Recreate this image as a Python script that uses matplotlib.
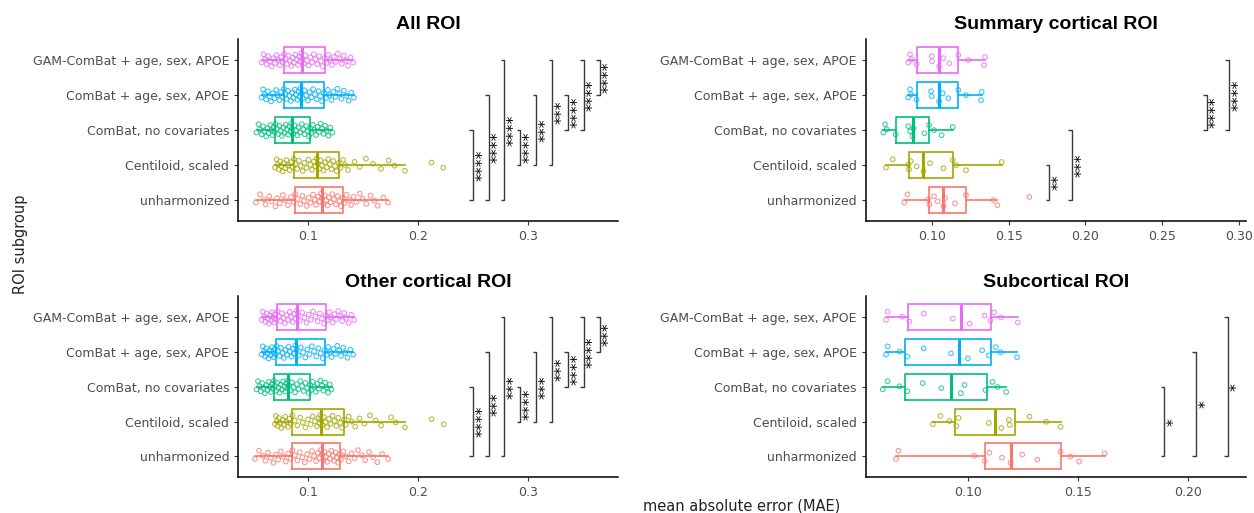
import numpy as np
import matplotlib
matplotlib.use("Agg")
import matplotlib.pyplot as plt

# ---------------- data ----------------
groups = ["unharmonized", "Centiloid, scaled", "ComBat, no covariates",
          "ComBat + age, sex, APOE", "GAM-ComBat + age, sex, APOE"]
colors = ["#F8766D", "#A3A500", "#00BF7D", "#00B0F6", "#E76BF3"]

# All ROI
all_unharm = [0.0524, 0.0561, 0.0598, 0.0612, 0.0645, 0.0667, 0.0702, 0.0718, 0.0741, 0.0769, 0.0788, 0.0815, 0.0842, 0.0866,
              0.0881, 0.0903, 0.0927, 0.0948, 0.0962, 0.0985, 0.1004, 0.1021, 0.1043, 0.1058, 0.1072, 0.1089, 0.1104, 0.1117,
              0.1125, 0.1138, 0.1149, 0.1163, 0.1176, 0.1188, 0.1202, 0.1219, 0.1234, 0.1251, 0.1268, 0.1283, 0.1297, 0.1312,
              0.1326, 0.1348, 0.1371, 0.1389, 0.1412, 0.1437, 0.1468, 0.1493, 0.1528, 0.1566, 0.1601, 0.1632, 0.1684, 0.1727]
all_centiloid = [0.0697, 0.0712, 0.0724, 0.0733, 0.0745, 0.0756, 0.0768, 0.0779, 0.0791, 0.0803, 0.0818, 0.0832, 0.0845, 0.0859,
                 0.0870, 0.0884, 0.0898, 0.0915, 0.0931, 0.0949, 0.0966, 0.0984, 0.1002, 0.1019, 0.1035, 0.1051, 0.1066, 0.1078,
                 0.1087, 0.1099, 0.1112, 0.1126, 0.1139, 0.1152, 0.1168, 0.1183, 0.1197, 0.1212, 0.1228, 0.1243, 0.1259, 0.1276,
                 0.1291, 0.1318, 0.1335, 0.1362, 0.1421, 0.1468, 0.1525, 0.1589, 0.1662, 0.1731, 0.1784, 0.1879, 0.2121, 0.2227]
all_combat_nocov = [0.0530, 0.0548, 0.0561, 0.0577, 0.0589, 0.0603, 0.0618, 0.0629, 0.0641, 0.0655, 0.0664, 0.0673, 0.0684, 0.0693,
                    0.0702, 0.0714, 0.0726, 0.0738, 0.0749, 0.0761, 0.0772, 0.0784, 0.0795, 0.0807, 0.0818, 0.0829, 0.0838, 0.0845,
                    0.0852, 0.0864, 0.0876, 0.0889, 0.0901, 0.0914, 0.0928, 0.0941, 0.0955, 0.0968, 0.0982, 0.0995, 0.1007, 0.1016,
                    0.1027, 0.1042, 0.1056, 0.1071, 0.1085, 0.1098, 0.1112, 0.1126, 0.1139, 0.1153, 0.1168, 0.1184, 0.1201, 0.1220]
all_combat_cov = [0.0576, 0.0589, 0.0602, 0.0617, 0.0633, 0.0648, 0.0661, 0.0679, 0.0694, 0.0709, 0.0722, 0.0738, 0.0752, 0.0766,
                  0.0779, 0.0791, 0.0803, 0.0816, 0.0829, 0.0842, 0.0853, 0.0867, 0.0878, 0.0889, 0.0901, 0.0912, 0.0921, 0.0929,
                  0.0938, 0.0951, 0.0967, 0.0982, 0.0998, 0.1013, 0.1029, 0.1044, 0.1061, 0.1077, 0.1094, 0.1109, 0.1126, 0.1143,
                  0.1161, 0.1178, 0.1193, 0.1212, 0.1229, 0.1248, 0.1266, 0.1281, 0.1302, 0.1324, 0.1346, 0.1368, 0.1391, 0.1415]
all_gam = [0.0576, 0.0594, 0.0608, 0.0621, 0.0637, 0.0652, 0.0668, 0.0683, 0.0697, 0.0712, 0.0728, 0.0741, 0.0755, 0.0768,
           0.0781, 0.0794, 0.0807, 0.0821, 0.0834, 0.0847, 0.0858, 0.0871, 0.0883, 0.0896, 0.0907, 0.0918, 0.0927, 0.0935,
           0.0944, 0.0958, 0.0973, 0.0989, 0.1004, 0.1019, 0.1035, 0.1051, 0.1067, 0.1083, 0.1099, 0.1116, 0.1132, 0.1149,
           0.1166, 0.1181, 0.1198, 0.1215, 0.1233, 0.1251, 0.1268, 0.1286, 0.1305, 0.1323, 0.1342, 0.1361, 0.1385, 0.1409]

# Summary cortical ROI
sum_unharm = [0.0822, 0.0842, 0.0978, 0.0985, 0.1015, 0.1039, 0.1076, 0.1087, 0.1152, 0.1223, 0.1401, 0.1427, 0.1635]
sum_centiloid = [0.0703, 0.0746, 0.0849, 0.0853, 0.0864, 0.0902, 0.0946, 0.0989, 0.1076, 0.1137, 0.1158, 0.1223, 0.1455]
sum_combat_nocov = [0.0686, 0.0697, 0.0708, 0.0766, 0.0848, 0.0860, 0.0876, 0.0882, 0.0952, 0.0983, 0.1015, 0.1065, 0.1137]
sum_combat_cov = [0.0848, 0.0859, 0.0866, 0.0902, 0.0996, 0.1000, 0.1048, 0.1072, 0.1108, 0.1173, 0.1223, 0.1321, 0.1325]
sum_gam = [0.0848, 0.0859, 0.0870, 0.0902, 0.1000, 0.1002, 0.1048, 0.1076, 0.1115, 0.1173, 0.1238, 0.1340, 0.1347]

# Other cortical ROI
oth_unharm = [0.0515, 0.0552, 0.0587, 0.0611, 0.0634, 0.0659, 0.0683, 0.0705, 0.0727, 0.0751, 0.0773, 0.0796, 0.0818, 0.0839,
              0.0856, 0.0878, 0.0901, 0.0923, 0.0947, 0.0968, 0.0991, 0.1012, 0.1034, 0.1053, 0.1071, 0.1088, 0.1103, 0.1116,
              0.1126, 0.1138, 0.1149, 0.1161, 0.1173, 0.1186, 0.1198, 0.1211, 0.1224, 0.1236, 0.1249, 0.1261, 0.1272, 0.1283,
              0.1297, 0.1318, 0.1342, 0.1368, 0.1394, 0.1421, 0.1452, 0.1486, 0.1518, 0.1553, 0.1589, 0.1628, 0.1671, 0.1727]
oth_centiloid = [0.0697, 0.0706, 0.0714, 0.0723, 0.0733, 0.0744, 0.0756, 0.0768, 0.0779, 0.0791, 0.0803, 0.0816, 0.0829, 0.0841,
                 0.0856, 0.0878, 0.0902, 0.0927, 0.0951, 0.0974, 0.0998, 0.1021, 0.1042, 0.1061, 0.1079, 0.1093, 0.1102, 0.1109,
                 0.1116, 0.1128, 0.1142, 0.1157, 0.1172, 0.1188, 0.1204, 0.1221, 0.1239, 0.1256, 0.1273, 0.1291, 0.1308, 0.1326,
                 0.1341, 0.1368, 0.1395, 0.1427, 0.1466, 0.1512, 0.1561, 0.1612, 0.1663, 0.1752, 0.1795, 0.1879, 0.2121, 0.2232]
oth_combat_nocov = [0.0530, 0.0543, 0.0556, 0.0569, 0.0581, 0.0594, 0.0606, 0.0618, 0.0629, 0.0641, 0.0652, 0.0662, 0.0671, 0.0679,
                    0.0688, 0.0697, 0.0708, 0.0718, 0.0729, 0.0739, 0.0750, 0.0761, 0.0771, 0.0782, 0.0792, 0.0801, 0.0809, 0.0815,
                    0.0822, 0.0836, 0.0851, 0.0866, 0.0881, 0.0897, 0.0912, 0.0928, 0.0944, 0.0959, 0.0975, 0.0991, 0.1005, 0.1016,
                    0.1026, 0.1041, 0.1055, 0.1069, 0.1083, 0.1097, 0.1111, 0.1125, 0.1139, 0.1153, 0.1167, 0.1181, 0.1196, 0.1212]
oth_combat_cov = [0.0576, 0.0587, 0.0598, 0.0608, 0.0619, 0.0629, 0.0640, 0.0650, 0.0660, 0.0669, 0.0678, 0.0687, 0.0695, 0.0702,
                  0.0712, 0.0725, 0.0739, 0.0752, 0.0766, 0.0779, 0.0793, 0.0807, 0.0821, 0.0834, 0.0848, 0.0861, 0.0873, 0.0883,
                  0.0894, 0.0913, 0.0933, 0.0953, 0.0973, 0.0993, 0.1013, 0.1033, 0.1053, 0.1073, 0.1093, 0.1113, 0.1132, 0.1150,
                  0.1166, 0.1181, 0.1197, 0.1213, 0.1230, 0.1247, 0.1264, 0.1281, 0.1299, 0.1318, 0.1337, 0.1357, 0.1383, 0.1409]
oth_gam = [0.0576, 0.0588, 0.0599, 0.0610, 0.0621, 0.0632, 0.0643, 0.0653, 0.0663, 0.0672, 0.0681, 0.0690, 0.0698, 0.0706,
           0.0719, 0.0733, 0.0747, 0.0761, 0.0775, 0.0789, 0.0803, 0.0817, 0.0831, 0.0845, 0.0859, 0.0872, 0.0884, 0.0895,
           0.0906, 0.0925, 0.0945, 0.0965, 0.0985, 0.1005, 0.1025, 0.1045, 0.1065, 0.1085, 0.1105, 0.1125, 0.1143, 0.1160,
           0.1175, 0.1190, 0.1206, 0.1222, 0.1239, 0.1256, 0.1273, 0.1291, 0.1309, 0.1328, 0.1347, 0.1368, 0.1392, 0.1418]

# Subcortical ROI
sub_unharm = [0.0674, 0.0685, 0.1030, 0.1076, 0.1098, 0.1155, 0.1194, 0.1247, 0.1315, 0.1421, 0.1465, 0.1505, 0.1621]
sub_centiloid = [0.0841, 0.0876, 0.0917, 0.0948, 0.0958, 0.1095, 0.1152, 0.1186, 0.1190, 0.1280, 0.1356, 0.1421]
sub_combat_nocov = [0.0614, 0.0636, 0.0690, 0.0726, 0.0795, 0.0880, 0.0968, 0.0985, 0.1080, 0.1112, 0.1135, 0.1174]
sub_combat_cov = [0.0629, 0.0636, 0.0690, 0.0726, 0.0800, 0.0924, 0.1000, 0.1065, 0.1095, 0.1127, 0.1148, 0.1223]
sub_gam = [0.0629, 0.0636, 0.0702, 0.0735, 0.0800, 0.0932, 0.1008, 0.1076, 0.1102, 0.1119, 0.1150, 0.1227]

# pairwise comparisons (group index pairs) and their significance labels
comparisons = [(0, 1), (0, 2), (0, 3), (0, 4), (1, 2), (1, 3), (1, 4), (2, 3), (2, 4), (3, 4)]
all_sig = ["", "****", "****", "****", "****", "***", "***", "****", "****", "****"]
sum_sig = ["**", "***", "", "", "", "", "", "****", "****", ""]
oth_sig = ["", "****", "***", "***", "****", "***", "***", "****", "****", "***"]
sub_sig = ["", "*", "*", "*", "", "", "", "", "", ""]

panels = [
    dict(title="All ROI", data=[all_unharm, all_centiloid, all_combat_nocov, all_combat_cov, all_gam], sig=all_sig,
         rect=[0.1900, 0.5692, 0.3030, 0.3548], xlim=(0.0364, 0.3818), ticks=[0.1, 0.2, 0.3], fmt="{:.1f}",
         base=0.2352, step=0.0144),
    dict(title="Summary cortical ROI", data=[sum_unharm, sum_centiloid, sum_combat_nocov, sum_combat_cov, sum_gam], sig=sum_sig,
         rect=[0.6906, 0.5692, 0.3028, 0.3548], xlim=(0.0573, 0.3042), ticks=[0.10, 0.15, 0.20, 0.25, 0.30], fmt="{:.2f}",
         base=0.1765, step=0.0146),
    dict(title="Other cortical ROI", data=[oth_unharm, oth_centiloid, oth_combat_nocov, oth_combat_cov, oth_gam], sig=oth_sig,
         rect=[0.1900, 0.0696, 0.3030, 0.3526], xlim=(0.0364, 0.3818), ticks=[0.1, 0.2, 0.3], fmt="{:.1f}",
         base=0.2352, step=0.0144),
    dict(title="Subcortical ROI", data=[sub_unharm, sub_centiloid, sub_combat_nocov, sub_combat_cov, sub_gam], sig=sub_sig,
         rect=[0.6906, 0.0696, 0.3028, 0.3526], xlim=(0.0538, 0.2261), ticks=[0.10, 0.15, 0.20], fmt="{:.2f}",
         base=0.1747, step=0.0144),
]

plt.rcParams['font.family'] = ['DejaVu Sans']
fig = plt.figure(figsize=(12.54, 5.13), dpi=100)
fig.patch.set_facecolor("white")


def jitter(n):
    # deterministic vertical spread of points (layout only)
    k = np.arange(n)
    return ((k * 0.6180339887 + 0.31) % 1.0 - 0.5) * 0.38


for p in panels:
    ax = fig.add_axes(p["rect"])
    positions = np.arange(1, len(groups) + 1)
    for i, (vals, col) in enumerate(zip(p["data"], colors)):
        pos = positions[i]
        ax.boxplot([vals], positions=[pos], vert=False, widths=0.75, showfliers=False,
                   showcaps=False, whis=1.5, patch_artist=False,
                   boxprops=dict(color=col, linewidth=1.2),
                   whiskerprops=dict(color=col, linewidth=1.2),
                   medianprops=dict(color=col, linewidth=2.2))
        v = np.asarray(vals)
        ax.scatter(v, pos + jitter(len(v)), s=11, facecolors="none", edgecolors=col,
                   linewidths=0.8, alpha=0.75, zorder=3)

    x0, x1 = p["xlim"]
    rng = x1 - x0
    tl = 0.0092 * rng
    for k, ((a, b), lab) in enumerate(zip(comparisons, p["sig"])):
        if not lab:
            continue
        xb = p["base"] + k * p["step"]
        ya, yb = positions[a], positions[b]
        ax.plot([xb - tl, xb, xb, xb - tl], [ya, ya, yb, yb], color="#3a3a3a", lw=1.0,
                solid_capstyle="butt", zorder=2)
        ax.text(xb + 0.026 * rng, (ya + yb) / 2, lab, rotation=90, ha="center", va="center",
                fontsize=11.5, color="black")

    ax.set_xlim(x0, x1)
    ax.set_ylim(0.4, 5.6)
    ax.set_xticks(p["ticks"])
    ax.set_xticklabels([p["fmt"].format(t) for t in p["ticks"]])
    ax.set_yticks(positions)
    ax.set_yticklabels(groups)
    ax.tick_params(axis="both", colors="#333333", labelcolor="#4D4D4D", labelsize=9, length=3, width=0.8)
    for s in ["top", "right"]:
        ax.spines[s].set_visible(False)
    for s in ["left", "bottom"]:
        ax.spines[s].set_linewidth(1.1)
        ax.spines[s].set_color("black")
    ax.set_title(p["title"], fontsize=14, fontweight="bold", family="Liberation Sans", pad=7)

fig.text(742 / 1254, 1 - 506 / 513, "mean absolute error (MAE)", ha="center", va="center", fontsize=10.5, color="#222222")
fig.text(21 / 1254, 1 - 244 / 513, "ROI subgroup", ha="center", va="center", rotation=90, fontsize=10.5, color="#222222")

fig.savefig("out.png", dpi=100, facecolor="white")
